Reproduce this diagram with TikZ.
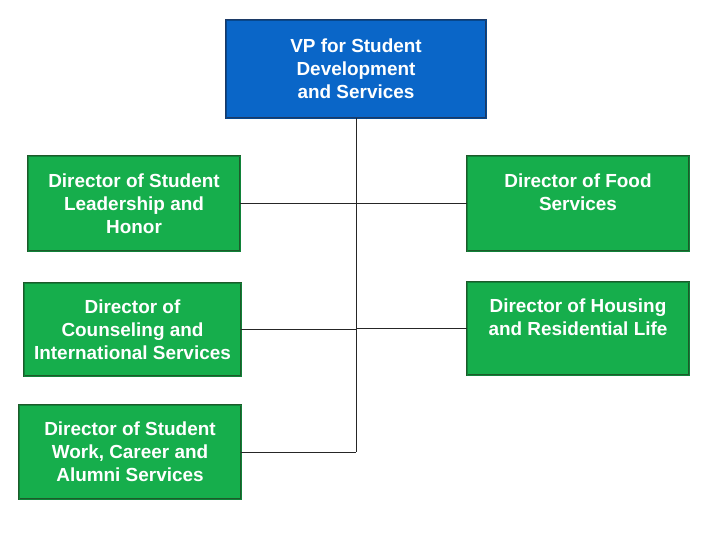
\documentclass[tikz,border=0pt]{standalone}
\usepackage{fontspec}
\setmainfont{Liberation Sans}
\usepackage{xcolor}
\usepackage{tikz}
\usetikzlibrary{positioning,calc}
\definecolor{vpblue}{HTML}{0A66C8}
\definecolor{vpedge}{HTML}{1C3A66}
\definecolor{dirgreen}{HTML}{16AE4C}
\definecolor{diredge}{HTML}{1E5A2A}
\tikzset{
  unit/.style={draw=diredge,line width=0.55pt,double=dirgreen!75!black,double distance=0.7pt,
    fill=dirgreen,text=white,align=center,inner sep=0pt,
    font=\fontsize{14.2}{17.25}\selectfont\bfseries},
  vpbox/.style={unit,draw=vpedge,double=vpblue!70!black,fill=vpblue},
  link/.style={draw=black!85,line width=0.7pt},
}
\begin{document}
\begin{tikzpicture}[x=0.75pt,y=-0.75pt]
  \useasboundingbox (0,0) rectangle (720,540);
  % --- head of the division ---
  \node[vpbox,minimum width=195pt,minimum height=73.5pt](vp) at (356,69)
    {VP for Student\\Development\\and Services};
  % --- directors, left column ---
  \node[unit,minimum width=159pt,minimum height=71.25pt](lead) at (134,203.5)
    {Director of Student\\Leadership and\\Honor};
  \node[unit,minimum width=162.75pt,minimum height=69.75pt](couns) at (132.5,329.5)
    {Director of\\Counseling and\\International Services};
  \node[unit,minimum width=166.5pt,minimum height=70.5pt](work) at (130,452)
    {Director of Student\\Work, Career and\\Alumni Services};
  % --- directors, right column ---
  \node[unit,minimum width=166.5pt,minimum height=71.25pt](food) at (578,203.5)
    {Director of Food\\Services\\\mbox{}};
  \node[unit,minimum width=166.5pt,minimum height=69.75pt](house) at (578,328.5)
    {Director of Housing\\and Residential Life\\\mbox{}};
  % --- reporting lines ---
  \draw[link] (vp.south) -- (vp.south |- work.east);
  \foreach \d in {lead,couns,work,food,house}
    \draw[link] (\d) -- (\d -| vp.south);
\end{tikzpicture}
\end{document}
